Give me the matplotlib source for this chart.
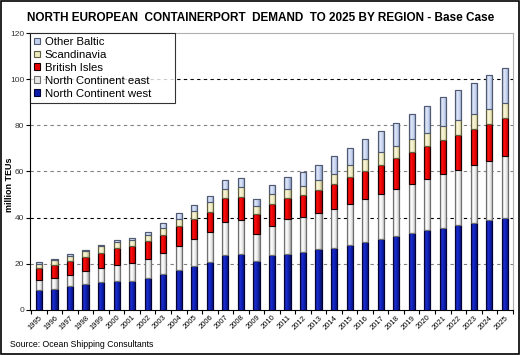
import matplotlib
matplotlib.use('Agg')
import matplotlib.pyplot as plt
import numpy as np
from matplotlib.patches import Rectangle
from matplotlib.colors import LinearSegmentedColormap

plt.rcParams['font.family'] = ['Liberation Sans', 'DejaVu Sans']

# Data (million TEUs)
years = [str(y) for y in range(1995, 2026)]
nc_west = [8.7, 9.2, 10.2, 11.3, 12.1, 12.6, 12.6, 13.9, 15.5, 17.5, 19.1, 20.6, 23.9, 24.1, 21.3, 24.0,
           24.4, 25.0, 26.2, 27.0, 28.3, 29.5, 30.9, 32.1, 33.4, 34.5, 35.5, 36.9, 37.8, 38.9, 39.9]
nc_east = [4.2, 4.6, 4.9, 5.4, 5.9, 6.9, 7.7, 8.1, 9.2, 10.2, 11.7, 13.1, 14.3, 14.9, 11.7, 12.5,
           15.1, 15.1, 15.6, 16.8, 17.7, 18.7, 19.3, 20.2, 21.3, 22.4, 23.2, 23.7, 25.0, 25.6, 26.7]
british = [5.3, 5.7, 6.0, 6.3, 6.7, 7.2, 7.3, 7.9, 7.9, 8.7, 8.8, 8.8, 10.1, 9.8, 8.4, 9.3,
           9.2, 9.6, 10.1, 10.9, 11.5, 11.9, 12.6, 13.4, 13.8, 14.2, 15.1, 15.4, 15.8, 16.1, 16.4]
scandinavia = [1.9, 2.0, 2.2, 2.6, 2.9, 2.7, 2.6, 2.5, 3.0, 3.0, 3.3, 4.1, 4.3, 4.4, 3.8, 4.3,
               3.9, 4.2, 4.2, 4.4, 5.3, 5.2, 5.7, 5.4, 5.5, 5.6, 5.7, 6.1, 6.2, 6.4, 6.6]
other_baltic = [0.7, 0.6, 0.8, 0.4, 0.6, 1.0, 1.0, 1.5, 1.9, 2.4, 2.5, 2.7, 3.6, 4.0, 2.8, 4.0,
                5.0, 6.0, 6.9, 7.5, 7.4, 8.9, 9.2, 10.1, 11.0, 11.6, 12.7, 13.2, 13.7, 14.9, 15.4]

# name, values, flat colour, edge colour, shading (left -> right)
series = [
    ('North Continent west', nc_west, '#0c1ca8', '#000033', ['#101880', '#1a2ed0', '#0c1ca8', '#061060']),
    ('North Continent east', nc_east, '#e6e6e6', '#707070', ['#b8b8b8', '#ffffff', '#e8e8e8', '#9a9a9a']),
    ('British Isles', british, '#e80000', '#1a0000', ['#b00000', '#ff1010', '#e00000', '#a00000']),
    ('Scandinavia', scandinavia, '#eeeac0', '#606040', ['#c8c49c', '#fbf8dc', '#eeeac0', '#b8b490']),
    ('Other Baltic', other_baltic, '#c4d2ee', '#505a70', ['#8ea0c8', '#e2eafa', '#c4d2ee', '#8898c0']),
]

fig = plt.figure(figsize=(5.21, 3.55), dpi=100)
ax = fig.add_axes([0.0576, 0.127, 0.927, 0.78])

x = np.arange(len(years))
w = 0.4
grad = np.linspace(0, 1, 32).reshape(1, -1)
bottom = np.zeros(len(years))
handles = []
for name, vals, col, edge, shades in series:
    b = ax.bar(x, vals, width=w, bottom=bottom, color=col, edgecolor=edge, linewidth=0.8,
               label=name, zorder=3)
    handles.append(b)
    cm = LinearSegmentedColormap.from_list(name, shades)
    for rect, xi, b0, v in zip(b.patches, x, bottom, vals):
        im = ax.imshow(grad, extent=(xi - w / 2, xi + w / 2, b0, b0 + v), aspect='auto',
                       cmap=cm, zorder=3.2, interpolation='bilinear')
        im.set_clip_path(rect)
    ax.bar(x, vals, width=w, bottom=bottom, fill=False, edgecolor=edge, linewidth=0.8, zorder=3.4)
    bottom += np.array(vals)

# gridlines
for v in [20, 40, 60, 80, 100]:
    c = '#000000' if v in (40, 100) else '#808080'
    ax.axhline(v, color=c, linestyle=(0, (3, 3)), linewidth=0.8, zorder=1)

ax.set_xlim(-0.58, 30.52)
ax.set_ylim(0, 120)
ax.set_yticks(range(0, 121, 20))
ax.set_xticks(x)
ax.set_xticklabels(years, rotation=45, ha='right', va='top', fontsize=5.5, rotation_mode='anchor')
ax.set_xticks(np.arange(-0.5, 31, 1), minor=True)
ax.tick_params(axis='x', which='major', length=0, pad=3)
ax.tick_params(axis='x', which='minor', length=3, direction='out', width=0.8)
ax.tick_params(axis='y', labelsize=6, length=3, width=0.8, pad=1, labelcolor='#333333')

for s in ['top', 'right']:
    ax.spines[s].set_color('#b0b0b0')
for s in ['left', 'bottom']:
    ax.spines[s].set_color('#000000')

leg = ax.legend(handles[::-1], [s[0] for s in series][::-1], loc='upper left',
                bbox_to_anchor=(0.0, 0.0, 0.30, 1.0), mode='expand', fontsize=8.2,
                frameon=True, fancybox=False,
                handlelength=0.55, handleheight=0.55, handletextpad=0.4, borderpad=0.35,
                labelspacing=0.26, borderaxespad=0)
leg.get_frame().set_edgecolor('black')
leg.get_frame().set_linewidth(0.8)
leg.set_zorder(5)

fig.text(0.5, 0.95, 'NORTH EUROPEAN  CONTAINERPORT  DEMAND  TO 2025 BY REGION - Base Case',
         ha='center', va='center', fontsize=8.5, fontweight='bold')
fig.text(0.018, 0.48, 'million TEUs', rotation=90, ha='center', va='center',
         fontsize=6.5, fontweight='bold')
fig.text(0.019, 0.03, 'Source: Ocean Shipping Consultants', ha='left', va='center', fontsize=6.3)

fig.patches.append(Rectangle((0.002, 0.003), 0.995, 0.993, transform=fig.transFigure,
                             fill=False, edgecolor='black', linewidth=1.2))

fig.savefig('out.png', dpi=100)
